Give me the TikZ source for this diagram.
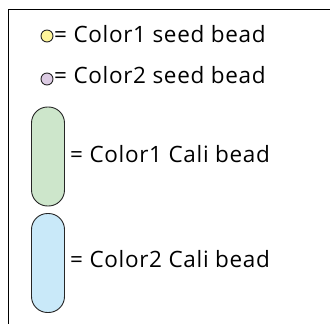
\documentclass[tikz,border=0pt]{standalone}
\usepackage{fontspec}
\setmainfont[LetterSpace=3]{Open Sans}
\definecolor{beadyellow}{HTML}{FFF59A}
\definecolor{beadpurple}{HTML}{DCCBE3}
\definecolor{beadgreen}{HTML}{CDE6CB}
\definecolor{beadblue}{HTML}{C9E9F9}
\tikzset{
  seedbead/.style={circle, draw=black!85, line width=0.9pt, minimum size=12pt, inner sep=0pt},
  calibead/.style={draw=black!85, line width=0.9pt, rounded corners=16pt, minimum width=33pt, minimum height=99pt, inner sep=0pt},
  legendtext/.style={anchor=base west, inner sep=0pt, font=\fontsize{22.5}{26}\selectfont},
}
\begin{document}
\begin{tikzpicture}[x=1pt,y=-1pt]
\useasboundingbox (0,0) rectangle (330,324);
\draw[line width=1.3pt] (8.5,324) -- (8.5,9.5) -- (330,9.5);
\node[seedbead, fill=beadyellow] (s1) at (47,36) {};
\node[legendtext] (t1) at (54,42.7) {= Color1 seed bead};
\node[seedbead, fill=beadpurple] (s2) at (47,79) {};
\node[legendtext] (t2) at (54,83.5) {= Color2 seed bead};
\node[calibead, fill=beadgreen] (c1) at (48,156.5) {};
\node[legendtext] (t3) at (70,162.5) {= Color1 Cali bead};
\node[calibead, fill=beadblue] (c2) at (48,263) {};
\node[legendtext] (t4) at (70,267) {= Color2 Cali bead};
\end{tikzpicture}
\end{document}
